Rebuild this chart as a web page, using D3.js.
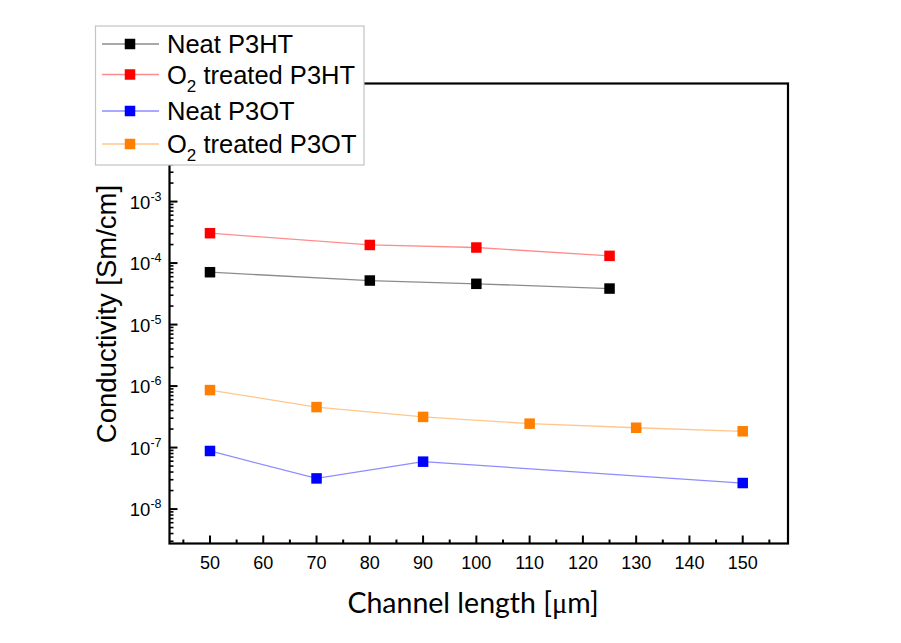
<!DOCTYPE html>
<html>
<head>
<meta charset="utf-8">
<script src="https://cdn.jsdelivr.net/npm/d3@7"></script>
<style>
  html, body { margin: 0; padding: 0; background: #fff; }
  svg { display: block; }
  text { font-family: "Liberation Sans", Arial, sans-serif; fill: #000; }
</style>
</head>
<body>
<svg id="chart" width="901" height="643"></svg>
<script>
// Channel lengths (µm) and measured conductivity (S/cm) for each film
const neatP3HT_x = [50, 80, 100, 125];
const neatP3HT_y = [7.1e-5, 5.2e-5, 4.6e-5, 3.85e-5];

const o2P3HT_x = [50, 80, 100, 125];
const o2P3HT_y = [3.06e-4, 1.97e-4, 1.79e-4, 1.31e-4];

const neatP3OT_x = [50, 70, 90, 150];
const neatP3OT_y = [8.8e-8, 3.15e-8, 5.9e-8, 2.65e-8];

const o2P3OT_x = [50, 70, 90, 110, 130, 150];
const o2P3OT_y = [8.6e-7, 4.55e-7, 3.15e-7, 2.45e-7, 2.1e-7, 1.84e-7];

const seriesNames = ["Neat P3HT", "O2 treated P3HT", "Neat P3OT", "O2 treated P3OT"];
const seriesColors = ["#000000", "#ff0000", "#0000ff", "#ff8000"];

const xMajorTicks = [50, 60, 70, 80, 90, 100, 110, 120, 130, 140, 150];
const xMinorTicks = [45, 55, 65, 75, 85, 95, 105, 115, 125, 135, 145, 155];
const yDecades = [-8, -7, -6, -5, -4, -3, -2];

const xTitle = "Channel length [";
const yTitle = "Conductivity [Sm/cm]";

const series = [
  { name: seriesNames[0], color: seriesColors[0], x: neatP3HT_x, y: neatP3HT_y },
  { name: seriesNames[1], color: seriesColors[1], x: o2P3HT_x, y: o2P3HT_y },
  { name: seriesNames[2], color: seriesColors[2], x: neatP3OT_x, y: neatP3OT_y },
  { name: seriesNames[3], color: seriesColors[3], x: o2P3OT_x, y: o2P3OT_y }
];

const svg = d3.select("#chart");
const plot = { left: 169.5, right: 788, top: 83.5, bottom: 543.5 };

const x = d3.scaleLinear().domain([42.4, 158.5]).range([plot.left, plot.right]);
const y = d3.scaleLog().domain([Math.pow(10, -8.56), Math.pow(10, -1.08)]).range([plot.bottom, plot.top]);

// minor log ticks: 2..9 within each decade that falls in the domain
const yMinorTicks = [];
for (let e = -9; e <= -2; e++) {
  for (let m = 2; m <= 9; m++) {
    const v = m * Math.pow(10, e);
    if (v >= y.domain()[0] && v <= y.domain()[1]) yMinorTicks.push(v);
  }
}

// frame
svg.append("rect")
  .attr("x", plot.left).attr("y", plot.top)
  .attr("width", plot.right - plot.left).attr("height", plot.bottom - plot.top)
  .attr("fill", "none").attr("stroke", "#000").attr("stroke-width", 2.2);

// x axis ticks (inward)
const xAxis = svg.append("g").attr("transform", `translate(0,${plot.bottom})`);
xAxis.selectAll("line.major").data(xMajorTicks).join("line")
  .attr("x1", d => x(d)).attr("x2", d => x(d))
  .attr("y1", 0).attr("y2", -8)
  .attr("stroke", "#000").attr("stroke-width", 2);
xAxis.selectAll("line.minor").data(xMinorTicks).join("line")
  .attr("class", "minor")
  .attr("x1", d => x(d)).attr("x2", d => x(d))
  .attr("y1", 0).attr("y2", -4)
  .attr("stroke", "#000").attr("stroke-width", 2);
xAxis.selectAll("text").data(xMajorTicks).join("text")
  .attr("x", d => x(d)).attr("y", 25)
  .attr("text-anchor", "middle")
  .attr("font-size", 18)
  .text(d => d);

// y axis ticks (inward)
const yAxis = svg.append("g").attr("transform", `translate(${plot.left},0)`);
yAxis.selectAll("line.minor").data(yMinorTicks).join("line")
  .attr("class", "minor")
  .attr("y1", d => y(d)).attr("y2", d => y(d))
  .attr("x1", 0).attr("x2", 4)
  .attr("stroke", "#000").attr("stroke-width", 1.6);
yAxis.selectAll("line.major").data(yDecades).join("line")
  .attr("class", "major")
  .attr("y1", d => y(Math.pow(10, d))).attr("y2", d => y(Math.pow(10, d)))
  .attr("x1", 0).attr("x2", 8)
  .attr("stroke", "#000").attr("stroke-width", 2);
const yLabels = yAxis.selectAll("text").data(yDecades).join("text")
  .attr("x", -8).attr("y", d => y(Math.pow(10, d)) + 7)
  .attr("text-anchor", "end")
  .attr("font-size", 18.5);
yLabels.append("tspan").text("10");
yLabels.append("tspan").attr("dy", -8).attr("font-size", 12.5).text(d => d);

// series lines and markers
const line = d3.line().x(d => x(d[0])).y(d => y(d[1]));
series.forEach(s => {
  const pts = s.x.map((v, i) => [v, s.y[i]]);
  svg.append("path").datum(pts)
    .attr("d", line)
    .attr("fill", "none")
    .attr("stroke", s.color)
    .attr("stroke-opacity", 0.45)
    .attr("stroke-width", 1.3);
  svg.append("g").selectAll("rect").data(pts).join("rect")
    .attr("x", d => x(d[0]) - 5.25).attr("y", d => y(d[1]) - 5.25)
    .attr("width", 10.5).attr("height", 10.5)
    .attr("fill", s.color);
});

// axis titles
const xt = svg.append("text")
  .attr("x", 473).attr("y", 613)
  .attr("text-anchor", "middle")
  .style("font-family", "Lato, 'Open Sans', sans-serif")
  .attr("font-size", 28.5);
xt.append("tspan").text(xTitle);
xt.append("tspan").style("font-family", "'Liberation Serif', serif").text("\u03bc");
xt.append("tspan").text("m]");

svg.append("text")
  .attr("transform", "translate(116,314) rotate(-90)")
  .attr("text-anchor", "middle")
  .attr("font-size", 27.5)
  .text(yTitle);

// legend
const legend = svg.append("g");
legend.append("rect")
  .attr("x", 95.5).attr("y", 26)
  .attr("width", 268.5).attr("height", 139)
  .attr("fill", "#fff").attr("stroke", "#c4c4c4").attr("stroke-width", 1.2);
const rowY = [44, 74.5, 111, 144];
series.forEach((s, i) => {
  const g = legend.append("g").attr("transform", `translate(0,${rowY[i]})`);
  g.append("line").attr("x1", 102).attr("x2", 159).attr("y1", 0).attr("y2", 0)
    .attr("stroke", s.color).attr("stroke-opacity", 0.45).attr("stroke-width", 1.3);
  g.append("rect").attr("x", 124.75).attr("y", -5.25).attr("width", 10.5).attr("height", 10.5)
    .attr("fill", s.color);
  const t = g.append("text").attr("x", 167).attr("y", 9).attr("font-size", 25.5);
  if (s.name.startsWith("O2")) {
    t.append("tspan").text("O");
    t.append("tspan").attr("dy", 8).attr("font-size", 17).text("2");
    t.append("tspan").attr("dy", -8).text(s.name.slice(2));
  } else {
    t.text(s.name);
  }
});
</script>
</body>
</html>
